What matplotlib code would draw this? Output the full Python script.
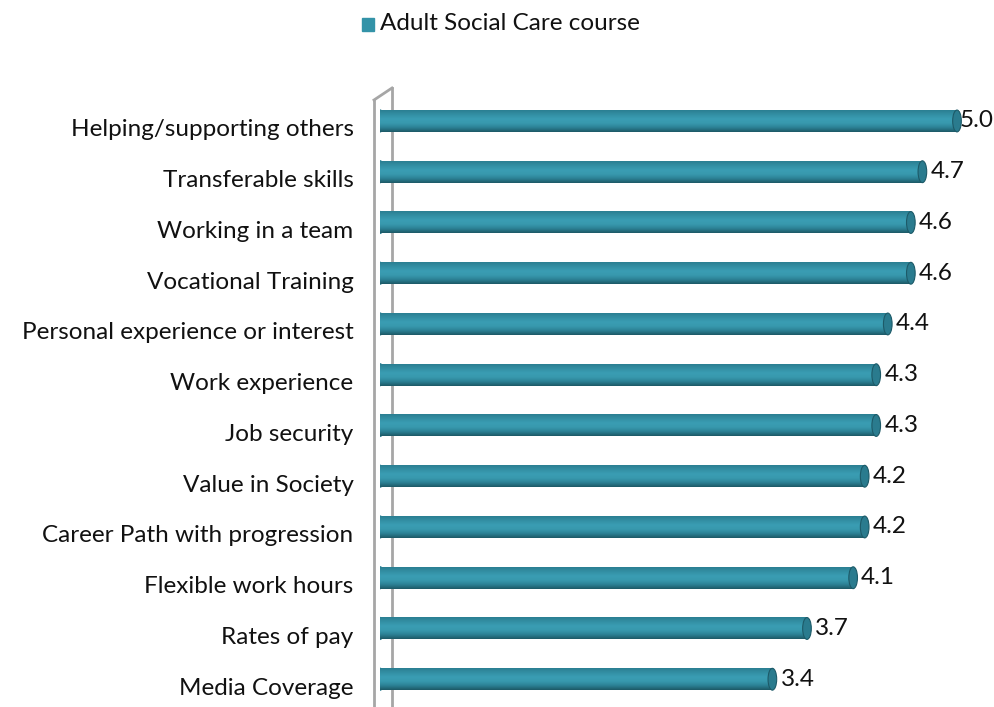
import matplotlib
matplotlib.use("Agg")
import numpy as np
import matplotlib.pyplot as plt
from matplotlib.patches import Ellipse, Rectangle
from matplotlib.lines import Line2D
from matplotlib.colors import LinearSegmentedColormap
from matplotlib.transforms import ScaledTranslation

categories = ["Helping/supporting others", "Transferable skills", "Working in a team",
              "Vocational Training", "Personal experience or interest", "Work experience",
              "Job security", "Value in Society", "Career Path with progression",
              "Flexible work hours", "Rates of pay", "Media Coverage"]
values = [5.0, 4.7, 4.6, 4.6, 4.4, 4.3, 4.3, 4.2, 4.2, 4.1, 3.7, 3.4]
series_name = "Adult Social Care course"

plt.rcParams['font.family'] = ['Lato', 'DejaVu Sans']

W, H = 994, 707
fig = plt.figure(figsize=(W / 100, H / 100), dpi=100)
ax = fig.add_axes([380 / W, 1 - 704.6 / H, 1 - 380 / W, (704.6 - 95.6) / H])
ax.patch.set_alpha(0)

base = "#3393a8"
# top -> bottom shading of the cylinder
cyl = LinearSegmentedColormap.from_list(
    "cyl", ["#2b7f92", "#338fa4", "#3a9db3", "#3899ae", "#2c8195", "#1d5967"])
grad = np.linspace(0, 1, 64).reshape(-1, 1)
bh = 0.43
pos = list(range(len(categories)))
xmax = (W - 380) / 115.4

for y, v in zip(pos, values):
    ax.add_patch(Ellipse((0, y), 0.07, bh, color="#2b7f92", zorder=1))
    ax.imshow(grad, cmap=cyl, aspect="auto", extent=[0, v, y + bh / 2, y - bh / 2],
              interpolation="bilinear", zorder=2)
    ax.add_patch(Ellipse((v, y), 0.075, bh, facecolor="#2a7b8e", edgecolor="#1d5a68",
                         lw=0.8, zorder=4))
    ax.text(min(v + 0.07, 5.02), y, f"{v:.1f}", va="center", ha="left",
            fontsize=17.5, color="#111111")

ax.set_xlim(0, xmax)
ax.set_ylim(len(categories) - 0.5, -0.5)
ax.set_yticks(pos)
ax.set_yticklabels(categories, fontsize=17.5, color="#111111")
ax.tick_params(axis="y", length=0, pad=19)
shift = ScaledTranslation(0, -7 / 100, fig.dpi_scale_trans)
for lab in ax.get_yticklabels():
    lab.set_transform(lab.get_transform() + shift)
ax.set_xticks([])
for s in ax.spines.values():
    s.set_visible(False)

# 3D wall on the left
wall = "#a6a6a6"
fig.add_artist(Line2D([374 / W, 374 / W], [1 - 100 / H, 0], color=wall, lw=2, zorder=-1))
fig.add_artist(Line2D([392 / W, 392 / W], [1 - 88 / H, 0], color=wall, lw=2, zorder=-1))
fig.add_artist(Line2D([374 / W, 392 / W], [1 - 100 / H, 1 - 88 / H], color=wall, lw=2, zorder=-1))

# legend
fig.add_artist(Rectangle((362 / W, 1 - 31 / H), 12 / W, 13 / H, color=base, transform=fig.transFigure))
fig.text(380 / W, 1 - 24 / H, series_name, fontsize=17.5, va="center", ha="left", color="#111111")

fig.savefig("out.png", dpi=100)
